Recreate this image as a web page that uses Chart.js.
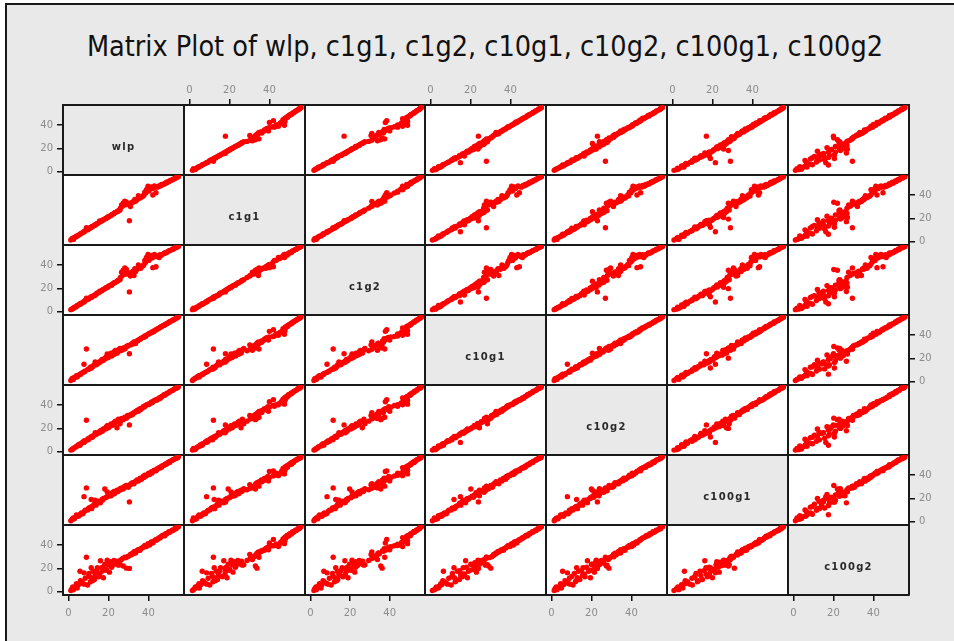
<!DOCTYPE html>
<html><head><meta charset="utf-8">
<script src="https://cdn.jsdelivr.net/npm/chart.js@4/dist/chart.umd.min.js"></script>
<style>
html,body{margin:0;padding:0;background:#fff;width:954px;height:641px;overflow:hidden;}
#frame{position:absolute;left:5px;top:3px;right:0;bottom:0;background:#e9e9e9;border-left:2px solid #1a1a1a;border-top:2px solid #1a1a1a;}
#title{position:absolute;left:0;width:970px;top:30px;text-align:center;font-family:'DejaVu Sans Condensed','DejaVu Sans',sans-serif;font-stretch:condensed;font-size:28.5px;color:#111;white-space:nowrap;}
.pane{position:absolute;}
.diag{position:absolute;font-family:'DejaVu Sans',sans-serif;font-weight:bold;font-size:10px;letter-spacing:1.3px;color:#2a2a2a;text-align:center;white-space:nowrap;}
</style></head><body>
<div id="frame"></div>
<div id="title">Matrix Plot of wlp, c1g1, c1g2, c10g1, c10g2, c100g1, c100g2</div>
<div id="grid"></div>
<script>
const names = ['wlp','c1g1','c1g2','c10g1','c10g2','c100g1','c100g2'];
const tickValues = [0, 20, 40];

const wlp = [1.2,1.8,2.5,3.0,3.8,4.4,5.0,5.8,6.5,7.2, 7.8,8.4,9.0,9.6,10.3,11.0,11.6,12.3,13.0,13.8, 14.5,15.2,16.0,16.8,17.5,18.2,19.0,19.8,20.5,21.3, 22.0,22.8,23.5,24.3,25.0,25.8,26.6,27.4,28.2,29.0, 30.0,30.5,31.3,32.0,32.8,33.6,34.3,35.0,35.8,36.6, 37.4,38.2,39.0,39.8,40.6,41.4,42.2,43.0,43.8,44.6, 45.4,46.2,47.0,47.8,48.6,49.4,50.2,51.0,51.8,52.6, 53.4,54.2,55.0,
  2.2,4.0,6.0,8.0,10.0,12.0,14.0,15.6,17.0,18.6, 20.0,21.6,23.0,24.6,26.0,27.0,28.6,29.6,31.0,32.4, 33.2,34.8,36.2,37.8,38.6,40.2,41.8,42.6,44.2,45.8, 46.6,48.2,49.0,50.6,52.2,53.8,54.6,19.4,13.4,11.4];
const c1g1 = [1.5,2.6,2.0,3.6,4.2,5.0,5.6,6.4,7.2,8.0, 8.6,9.4,12.0,10.2,11.0,11.8,12.6,13.4,14.0,14.8, 15.6,16.4,17.2,18.0,18.8,19.4,20.2,21.0,21.8,22.6, 23.4,24.2,25.0,25.8,26.5,27.2,31.5,33.0,34.8,33.8, 32.5,18.0,33.2,33.8,34.5,34.8,36.0,39.5,37.5,38.4, 39.2,42.5,44.5,47.5,44.8,47.0,40.0,47.8,42.0,46.8, 47.6,48.0,48.8,49.5,50.2,50.8,51.6,52.4,53.0,53.8, 54.5,55.2,55.8,
  3.0,4.8,6.6,8.8,11.6,13.0,15.2,17.8,18.4,20.0, 21.4,23.0,24.6,26.0,28.8,30.4,31.6,32.4,30.2,34.0, 36.2,37.0,38.2,40.0,41.8,43.4,45.5,46.2,47.2,48.2, 49.0,49.8,51.0,52.0,53.4,54.8,55.6,20.8,14.6,12.4];
const c1g2 = [1.8,2.2,3.0,3.8,4.0,5.4,5.8,6.8,7.0,8.2, 8.4,9.6,11.5,10.5,11.2,12.2,12.5,13.6,13.8,15.0, 16.0,16.5,17.4,18.2,19.0,19.8,20.5,21.2,22.4,23.0, 23.8,24.6,25.2,26.2,27.0,27.5,33.8,35.5,37.5,36.2, 33.0,17.0,33.5,34.2,31.0,34.5,36.4,40.0,37.8,38.8, 39.5,44.0,46.5,49.0,45.5,48.2,37.8,49.0,38.5,47.2, 46.5,48.4,49.2,50.0,50.6,51.2,52.0,52.6,53.4,54.0, 54.8,55.4,56.0,
  2.8,4.6,6.4,9.0,11.4,13.2,15.4,17.6,18.6,20.4, 21.6,22.8,24.8,26.4,29.4,31.0,32.2,32.6,30.6,34.8, 36.8,37.4,37.2,40.6,42.4,44.0,46.0,47.0,47.8,48.8, 48.6,50.4,50.8,52.4,53.6,55.0,55.6,21.0,14.4,12.8];
const c10g1 = [1.0,2.5,2.0,3.6,4.5,4.0,5.6,6.5,7.0,8.0, 15.0,9.2,28.0,10.4,11.0,12.4,12.0,13.5,14.5,15.2, 16.4,16.0,17.6,19.0,18.5,20.2,21.5,22.2,23.0,24.5, 22.8,25.6,26.8,24.5,27.5,28.5,27.0,29.0,28.0,30.2, 31.0,24.0,31.8,33.0,34.2,32.8,35.0,35.8,36.5,37.6, 38.0,39.2,39.8,40.6,41.5,42.0,43.2,43.8,44.5,45.4, 46.0,47.0,47.8,48.5,49.4,50.0,51.0,51.6,52.5,53.2, 54.0,54.8,55.5,
  3.0,5.2,6.2,8.6,10.8,12.8,14.6,16.8,18.0,19.8, 20.8,22.0,23.6,25.4,26.6,27.8,29.4,30.6,31.6,32.6, 33.8,35.4,36.8,38.4,38.8,41.0,42.4,42.8,44.8,46.4, 47.4,48.6,49.6,51.2,52.8,54.2,55.2,23.8,17.0,11.8];
const c10g2 = [1.4,1.8,2.8,3.4,4.2,5.0,6.0,5.6,7.2,8.4, 8.0,9.0,27.0,10.8,11.5,12.0,13.0,13.6,14.2,15.6, 15.8,16.8,18.0,18.6,19.5,20.0,21.2,22.0,21.5,23.8, 22.6,25.0,26.2,20.5,27.8,24.0,28.5,27.5,29.6,28.8, 30.5,23.0,32.2,31.8,33.5,34.6,35.2,34.6,36.8,37.2, 38.6,39.0,40.2,40.8,41.2,42.5,42.8,44.0,44.6,45.0, 46.2,46.8,47.6,48.8,49.2,50.2,50.8,51.8,52.4,53.4, 54.2,54.6,55.6,
  2.4,4.6,6.8,9.4,10.2,12.4,15.0,16.2,17.6,19.4, 20.6,22.6,24.2,25.8,26.2,28.0,29.0,31.2,31.0,33.0, 33.6,35.8,36.2,38.2,39.6,40.4,42.0,43.4,44.2,45.6, 47.2,48.4,49.8,51.4,52.6,54.6,55.0,22.4,16.4,12.6];
const c100g1 = [0.8,2.0,3.2,2.6,4.4,5.2,4.6,6.0,7.5,6.8, 21.5,9.8,29.0,10.0,11.8,12.5,11.2,13.8,15.0,14.2, 16.8,17.5,16.2,19.2,20.0,28.0,21.0,22.5,23.4,22.2, 24.8,26.0,25.2,27.0,26.5,28.4,29.0,28.0,30.5,31.0, 29.5,17.0,32.5,33.4,32.6,34.4,35.8,35.0,37.0,36.4, 38.8,39.8,39.5,41.0,40.4,42.6,43.0,44.2,43.6,45.6, 46.4,47.2,48.0,48.4,49.6,50.4,51.2,51.8,52.6,53.4, 54.0,55.0,55.6,
  2.8,5.8,6.4,8.8,11.2,13.0,15.8,17.0,18.4,20.6, 21.8,23.0,24.0,25.8,27.4,28.6,29.8,30.4,31.8,33.0, 34.2,35.2,37.4,38.0,39.2,41.6,41.8,43.6,44.8,46.0, 46.8,48.8,49.2,50.8,53.0,54.4,54.8,25.6,18.5,19.0];
const c100g2 = [1.0,2.6,1.8,3.5,5.0,3.2,6.0,17.5,8.6,7.0, 16.2,11.5,29.5,5.8,15.6,8.5,12.0,17.5,10.5,14.0, 20.5,12.8,26.5,17.5,12.0,23.5,19.0,24.8,16.8,25.8, 22.5,26.8,24.4,23.6,22.8,23.2,27.6,22.0,29.5,20.2, 30.5,20.0,31.5,33.0,34.0,33.2,35.2,36.0,35.5,37.4, 38.2,39.6,38.8,41.2,40.0,42.6,41.8,43.8,44.8,45.2, 46.4,47.0,48.2,48.6,49.8,50.2,51.4,51.6,52.8,53.2, 54.4,55.0,55.8,
  4.0,6.8,9.5,6.5,13.0,9.5,18.0,15.0,21.0,18.4, 23.0,21.0,25.4,26.2,26.8,28.4,29.2,30.0,32.0,32.6, 34.6,35.8,36.8,38.6,39.4,40.8,42.2,43.2,44.4,46.0, 47.6,48.0,49.4,51.0,52.4,54.0,55.4,27.0,15.0,20.5];

const series = [wlp, c1g1, c1g2, c10g1, c10g2, c100g1, c100g2];

const X0 = 63, W = 120.8, Y0 = 105, H = 70;
const ML = 34, MR = 34, MT = 24, MB = 26;
const XMIN = -2.7, XMAX = 57.8, YMIN = -2.8, YMAX = 57.2;

const bgPlugin = {
  id: 'panelBg',
  beforeDraw(chart, args, opts) {
    const a = chart.chartArea, ctx = chart.ctx;
    ctx.save();
    ctx.fillStyle = opts.color;
    ctx.fillRect(a.left, a.top, a.right - a.left, a.bottom - a.top);
    ctx.restore();
  }
};

function axis(position, show, size, min, max, pad) {
  const horiz = position === 'top' || position === 'bottom';
  return {
    type: 'linear', position, min, max,
    afterBuildTicks: s => { s.ticks = tickValues.map(v => ({ value: v })); },
    afterFit: s => { if (horiz) s.height = size; else s.width = size; },
    ticks: { display: show, color: '#8c8c8c', font: { family: 'DejaVu Sans', size: 10 }, padding: pad, maxRotation: 0, autoSkip: false },
    grid: { display: show, drawOnChartArea: false, drawTicks: true, tickLength: 6, color: '#111', lineWidth: 1.5 },
    border: { display: true, color: '#1a1a1a', width: 2 }
  };
}

const grid = document.getElementById('grid');
for (let i = 0; i < 7; i++) {
  for (let j = 0; j < 7; j++) {
    const pl = Math.round(X0 + j * W), pr = Math.round(X0 + (j + 1) * W);
    const pt = Math.round(Y0 + i * H), pb = Math.round(Y0 + (i + 1) * H);
    const div = document.createElement('div');
    div.className = 'pane';
    div.style.left = (pl - ML) + 'px';
    div.style.top = (pt - MT) + 'px';
    const cv = document.createElement('canvas');
    cv.width = pr - pl + ML + MR;
    cv.height = pb - pt + MT + MB;
    div.appendChild(cv);
    grid.appendChild(div);
    const showTop = i === 0 && j % 2 === 1;
    const showBottom = i === 6 && j % 2 === 0;
    const showLeft = j === 0 && i % 2 === 0;
    const showRight = j === 6 && i % 2 === 1;
    const diag = i === j;
    const data = diag ? [] : series[j].map((x, k) => ({ x: x, y: series[i][k] }));
    new Chart(cv, {
      type: 'scatter',
      data: { datasets: [{ data, backgroundColor: '#ff0000', borderWidth: 0, pointRadius: 2.7, pointHoverRadius: 2.7 }] },
      options: {
        responsive: false, animation: false, events: [],
        layout: { padding: 0 },
        plugins: { legend: { display: false }, tooltip: { enabled: false }, panelBg: { color: diag ? '#e9e9e9' : '#ffffff' } },
        scales: {
          x: axis('bottom', showBottom, MB, XMIN, XMAX, 6),
          xt: axis('top', showTop, MT, XMIN, XMAX, 3),
          y: axis('left', showLeft, ML, YMIN, YMAX, 4),
          yr: axis('right', showRight, MR, YMIN, YMAX, 4)
        }
      },
      plugins: [bgPlugin]
    });
    if (diag) {
      const lab = document.createElement('div');
      lab.className = 'diag';
      lab.textContent = names[i];
      lab.style.left = pl + 'px';
      lab.style.width = (pr - pl) + 'px';
      lab.style.top = (pt + (pb - pt) / 2 + 1) + 'px';
      grid.appendChild(lab);
    }
  }
}
</script>
</body></html>
